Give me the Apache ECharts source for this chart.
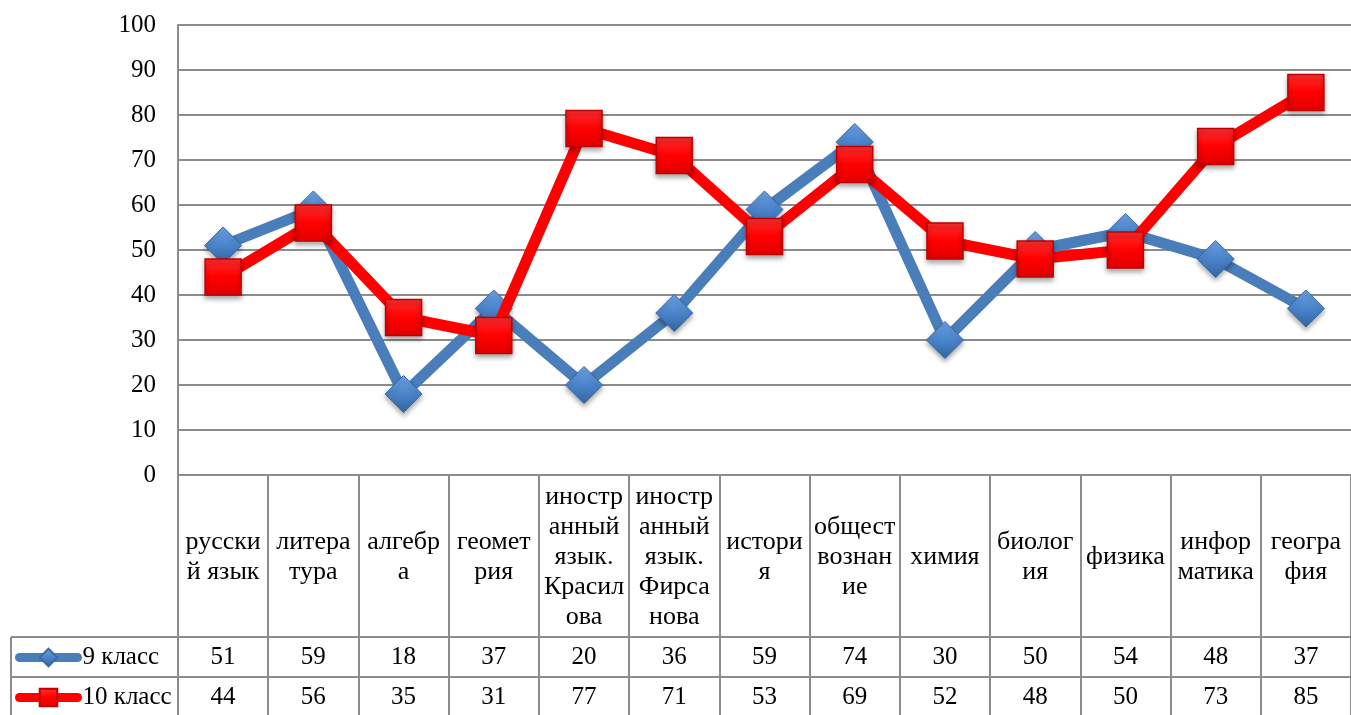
<!DOCTYPE html>
<html>
<head>
<meta charset="utf-8">
<script src="https://cdn.jsdelivr.net/npm/echarts@6/dist/echarts.min.js"></script>
<style>
  html, body { margin: 0; padding: 0; background: #fff; }
  #chart { width: 1351px; height: 715px; }
</style>
</head>
<body>
<div id="chart"></div>
<script>
// subjects, with the line breaks as they appear in the table header
const subjects = [
  'русски\nй язык', 'литера\nтура', 'алгебр\nа', 'геомет\nрия',
  'иностр\nанный\nязык.\nКрасил\nова', 'иностр\nанный\nязык.\nФирса\nнова',
  'истори\nя', 'общест\nвознан\nие', 'химия', 'биолог\nия', 'физика',
  'инфор\nматика', 'геогра\nфия'
];
const grade9 = [51, 59, 18, 37, 20, 36, 59, 74, 30, 50, 54, 48, 37];
const grade10 = [44, 56, 35, 31, 77, 71, 53, 69, 52, 48, 50, 73, 85];
const seriesNames = ['9 класс', '10 класс'];
const yTicks = { min: 0, max: 100, step: 10 };

const font = "'Liberation Serif', 'Times New Roman', serif";
const gridColor = '#8c8c8c';
const plotLeft = 178, plotTop = 25, plotBottom = 475;
const headerH = 162, rowH = 40, tableLeft = 11;

const chart = echarts.init(document.getElementById('chart'));

function tableAxis(offset, tickLen, margin, values) {
  return {
    type: 'category',
    data: subjects,
    position: 'bottom',
    offset: offset,
    boundaryGap: true,
    axisLine: { show: true, lineStyle: { color: gridColor, width: 2 } },
    axisTick: { show: true, interval: 0, length: tickLen, lineStyle: { color: gridColor, width: 2 } },
    axisLabel: {
      interval: 0,
      margin: margin,
      verticalAlign: 'middle',
      color: '#000',
      fontFamily: font,
      fontSize: values ? 25 : 26,
      lineHeight: 30,
      formatter: values ? (v, i) => String(values[i]) : null
    },
    splitLine: { show: false }
  };
}

const xAxes = [
  tableAxis(0, headerH, headerH / 2 + 1, null),
  tableAxis(headerH, rowH, rowH / 2, grade9),
  tableAxis(headerH + rowH, rowH + 5, rowH / 2, grade10)
];

const option = {
  backgroundColor: '#fff',
  animation: false,
  grid: { left: plotLeft, right: 0, top: plotTop, bottom: 715 - plotBottom, containLabel: false },
  legend: {
    orient: 'vertical',
    left: 15,
    top: 644,
    padding: 0,
    itemWidth: 58,
    itemHeight: 22,
    itemGap: 13,
    textStyle: { fontFamily: font, fontSize: 25, lineHeight: 27, color: '#000' },
    lineStyle: { width: 9, cap: 'round' },
    data: seriesNames
  },
  xAxis: xAxes,
  yAxis: {
    type: 'value',
    min: yTicks.min,
    max: yTicks.max,
    interval: yTicks.step,
    axisLine: { show: true, lineStyle: { color: gridColor, width: 2 } },
    axisTick: { show: false },
    axisLabel: { color: '#000', fontFamily: font, fontSize: 25, margin: 22 },
    splitLine: { show: true, lineStyle: { color: gridColor, width: 2 } }
  },
  series: [
    {
      name: seriesNames[0],
      type: 'line',
      data: grade9,
      xAxisIndex: 0,
      symbol: 'diamond',
      symbolSize: 37,
      lineStyle: { color: '#4a7ebb', width: 11 },
      itemStyle: {
        color: new echarts.graphic.LinearGradient(0, 0, 0, 1, [
          { offset: 0, color: '#6fa3e6' },
          { offset: 0.5, color: '#4a84cc' },
          { offset: 1, color: '#33659f' }
        ]),
        borderColor: '#3b6aa3',
        borderWidth: 1,
        shadowColor: 'rgba(0,0,0,0.35)',
        shadowBlur: 5,
        shadowOffsetY: 3
      },
      z: 2
    },
    {
      name: seriesNames[1],
      type: 'line',
      data: grade10,
      xAxisIndex: 0,
      symbol: 'rect',
      symbolSize: 36,
      lineStyle: { color: '#ff0000', width: 11 },
      itemStyle: {
        color: new echarts.graphic.LinearGradient(0, 0, 0, 1, [
          { offset: 0, color: '#ff3030' },
          { offset: 0.5, color: '#ff0000' },
          { offset: 1, color: '#e00000' }
        ]),
        borderColor: '#c00000',
        borderWidth: 1.5,
        shadowColor: 'rgba(0,0,0,0.35)',
        shadowBlur: 5,
        shadowOffsetY: 3
      },
      z: 3
    }
  ],
  graphic: [
    { type: 'line', shape: { x1: tableLeft, y1: plotBottom + headerH, x2: plotLeft, y2: plotBottom + headerH },
      style: { stroke: gridColor, lineWidth: 2 } },
    { type: 'line', shape: { x1: tableLeft, y1: plotBottom + headerH + rowH, x2: plotLeft, y2: plotBottom + headerH + rowH },
      style: { stroke: gridColor, lineWidth: 2 } },
    { type: 'line', shape: { x1: tableLeft, y1: plotBottom + headerH, x2: tableLeft, y2: 720 },
      style: { stroke: gridColor, lineWidth: 2 } }
  ]
};

chart.setOption(option);
</script>
</body>
</html>
